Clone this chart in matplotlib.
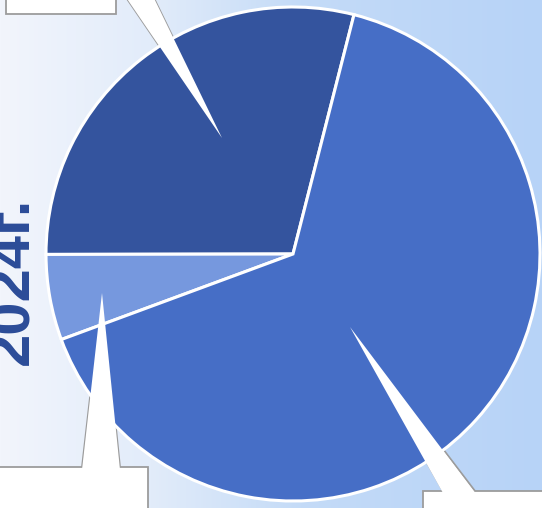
import numpy as np
import matplotlib
matplotlib.use("Agg")
import matplotlib.pyplot as plt
from matplotlib.patches import Polygon

# pie shares in percent, counter-clockwise from start angle
shares = [29.0, 5.6, 65.4]
colors = ['#34549e', '#7698de', '#466ec6']
start_angle = 75.7
year_label = '2024г.'

W, H = 542, 508
fig = plt.figure(figsize=(W / 100, H / 100), dpi=100)

# background layer, pixel coords (y down)
bg = fig.add_axes([0, 0, 1, 1], zorder=0)
bg.set_xlim(0, W)
bg.set_ylim(H, 0)
bg.axis('off')

xs = np.arange(W)
stops_x = [0, 150, 300, 542]
stops_c = np.array([[242, 245, 252], [226, 236, 250], [196, 219, 247], [183, 211, 248]]) / 255
grad = np.stack([np.interp(xs, stops_x, stops_c[:, k]) for k in range(3)], axis=-1)
grad = np.repeat(grad[None, :, :], H, axis=0)
bg.imshow(grad, extent=(0, W, H, 0), aspect='auto', zorder=0)

edge_gray = '#9c9c9c'
callouts = [
    [(6, -20), (116, -20), (116, 14), (6, 14)],
    [(121, -10), (150, -10), (222, 138)],
    [(-5, 467), (82, 467), (102, 293), (120, 467), (148, 467), (148, 520), (-5, 520)],
    [(423, 520), (423, 491), (443, 491), (350, 327), (475, 491), (560, 491), (560, 520)],
]
for pts in callouts:
    bg.add_patch(Polygon(pts, closed=True, facecolor='white', edgecolor=edge_gray,
                         linewidth=1.3, zorder=2))

bg.text(28, 365, year_label, rotation=90, rotation_mode='anchor', ha='left', va='baseline',
        fontsize=43, fontweight='bold', color='#2b4c98', family='Liberation Sans', zorder=3)

# pie layer, pixel coords (y up)
ax = fig.add_axes([0, 0, 1, 1], zorder=1)
ax.patch.set_alpha(0)
ax.pie(shares, colors=colors, startangle=start_angle, counterclock=True,
       center=(293, H - 254), radius=247, frame=True,
       wedgeprops=dict(edgecolor='white', linewidth=2.2))
ax.set_xlim(0, W)
ax.set_ylim(0, H)
ax.set_aspect('auto')
ax.axis('off')

# callout pointers drawn over the pie
top = fig.add_axes([0, 0, 1, 1], zorder=2)
top.patch.set_alpha(0)
top.set_xlim(0, W)
top.set_ylim(H, 0)
top.axis('off')
pointers = [
    [(121, -10), (150, -10), (222, 138)],
    [(82, 470), (102, 293), (120, 470)],
    [(443, 493), (350, 327), (475, 493)],
]
for pts in pointers:
    top.add_patch(Polygon(pts, closed=True, facecolor='white', edgecolor='none'))

fig.savefig('out.png', dpi=100)
